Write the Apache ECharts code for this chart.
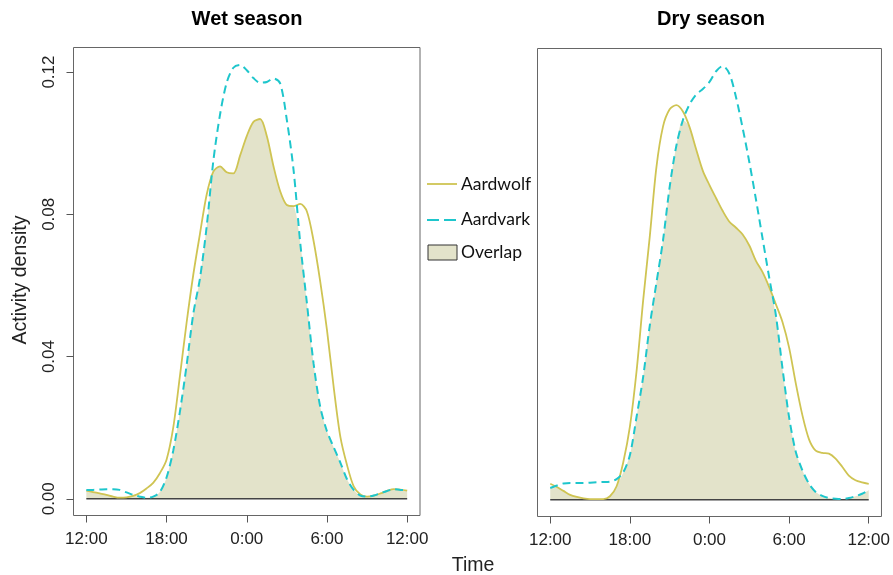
<!DOCTYPE html>
<html>
<head>
<meta charset="utf-8">
<script src="https://cdn.jsdelivr.net/npm/echarts@6/dist/echarts.min.js"></script>
<style>
html,body{margin:0;padding:0;background:#fff;}
#c{width:893px;height:575px;}
</style>
</head>
<body>
<div id="c"></div>
<script>
// Hours after 12:00 (0 = 12:00, 12 = 0:00, 24 = 12:00 next day)
const hours = [0,0.5,1,1.5,2,2.5,3,3.5,4,4.5,5,5.5,6,6.5,7,7.5,8,8.5,9,9.5,10,10.5,11,11.5,12,12.5,13,13.5,14,14.5,15,15.5,16,16.5,17,17.5,18,18.5,19,19.5,20,20.5,21,21.5,22,22.5,23,23.5,24];

const wetAardwolf = [0.0023,0.0019,0.0015,0.0011,0.0006,0.0003,0.0004,0.0008,0.0016,0.0029,0.0045,0.0072,0.0110,0.0200,0.0345,0.0495,0.0630,0.0745,0.0855,0.0920,0.0935,0.0918,0.0915,0.0965,0.1020,0.1060,0.1068,0.1020,0.0935,0.0865,0.0826,0.0823,0.0829,0.0808,0.0725,0.0610,0.0475,0.0315,0.0175,0.0095,0.0035,0.0012,0.0006,0.0009,0.0015,0.0022,0.0027,0.0026,0.0023];
const wetAardvark = [0.0025,0.0025,0.0026,0.0027,0.0027,0.0025,0.0018,0.0011,0.0006,0.0003,0.0006,0.0019,0.0060,0.0135,0.0245,0.0375,0.0520,0.0620,0.0765,0.0950,0.1080,0.1170,0.1212,0.1220,0.1205,0.1183,0.1170,0.1172,0.1182,0.1168,0.1065,0.0925,0.0720,0.0550,0.0380,0.0258,0.0190,0.0145,0.0102,0.0055,0.0025,0.0009,0.0006,0.0009,0.0016,0.0022,0.0027,0.0025,0.0024];

const dryAardwolf = [0.0045,0.0036,0.0025,0.0014,0.0008,0.0004,0.0002,0.0002,0.0002,0.0010,0.0038,0.0105,0.0205,0.0360,0.0560,0.0740,0.0935,0.1050,0.1098,0.1110,0.1092,0.1048,0.0985,0.0925,0.0885,0.0848,0.0812,0.0782,0.0765,0.0746,0.0715,0.0672,0.0640,0.0598,0.0550,0.0500,0.0428,0.0328,0.0238,0.0170,0.0138,0.0132,0.0130,0.0116,0.0093,0.0068,0.0055,0.0049,0.0045];
const dryAardvark = [0.0033,0.0040,0.0046,0.0047,0.0047,0.0047,0.0048,0.0049,0.0050,0.0051,0.0058,0.0077,0.0125,0.0232,0.0345,0.0490,0.0610,0.0730,0.0880,0.0995,0.1068,0.1112,0.1140,0.1155,0.1175,0.1205,0.1220,0.1198,0.1132,0.1045,0.0950,0.0845,0.0735,0.0625,0.0520,0.0370,0.0232,0.0135,0.0083,0.0045,0.0022,0.0011,0.0005,0.0003,0.0002,0.0005,0.0010,0.0017,0.0027];

const xTickHours = [0,6,12,18,24];
const xTickLabels = ['12:00','18:00','0:00','6:00','12:00'];
const yTicks = [0,0.04,0.08,0.12];
const panelTitles = ['Wet season','Dry season'];
const legendNames = ['Aardwolf','Aardvark','Overlap'];

const WOLF = '#CFC453';
const VARK = '#1EC6CC';
const FILL = '#E3E3CA';

function pairs(arr){ return hours.map((h,i)=>[h,arr[i]]); }
function overlap(a,b){ return hours.map((h,i)=>[h,Math.min(a[i],b[i])]); }

const grids = [
  {left:73.5, top:47.5, width:346.5, height:468},
  {left:537.5, top:48.5, width:346.5, height:468}
];

const xAxes = grids.map((g,i)=>({
  type:'value', gridIndex:i, min:-0.96, max:24.96, position:'bottom',
  axisLine:{show:false, onZero:false}, splitLine:{show:false},
  axisTick:{show:true, inside:false, length:7, lineStyle:{color:'#555',width:1}, customValues:xTickHours},
  axisLabel:{show:true, margin:15, fontFamily:'Liberation Sans', fontSize:17, color:'#222',
    customValues:xTickHours, formatter:(v)=>xTickLabels[xTickHours.indexOf(v)] }
}));
const yAxes = grids.map((g,i)=>({
  type:'value', gridIndex:i, min:-0.0047, max:0.1269, position:'left',
  axisLine:{show:false, onZero:false}, splitLine:{show:false},
  axisTick:{show:i===0, inside:false, length:7, lineStyle:{color:'#555',width:1}, customValues:yTicks},
  axisLabel:{show:i===0, rotate:90, margin:16, fontFamily:'Liberation Sans', fontSize:17, color:'#222',
    customValues:yTicks, formatter:(v)=>v.toFixed(2)}
}));

const panels = [[wetAardwolf,wetAardvark],[dryAardwolf,dryAardvark]];
const series = [];
panels.forEach((p,i)=>{
  series.push({type:'line', name:'Overlap', xAxisIndex:i, yAxisIndex:i, data:overlap(p[0],p[1]),
    smooth:0.3, symbol:'none', lineStyle:{width:0}, areaStyle:{color:FILL, opacity:1, origin:0}, silent:true, z:1});
  series.push({type:'line', name:'Baseline', xAxisIndex:i, yAxisIndex:i, data:[[xTickHours[0],0],[xTickHours[4],0]],
    symbol:'none', lineStyle:{color:'#444', width:1.5}, silent:true, z:2});
  series.push({type:'line', name:'Aardwolf', xAxisIndex:i, yAxisIndex:i, data:pairs(p[0]),
    smooth:0.3, symbol:'none', lineStyle:{color:WOLF, width:1.8}, z:3});
  series.push({type:'line', name:'Aardvark', xAxisIndex:i, yAxisIndex:i, data:pairs(p[1]),
    smooth:0.3, symbol:'none', lineStyle:{color:VARK, width:2, type:[8,5]}, z:4});
});

const chart = echarts.init(document.getElementById('c'), null, {renderer:'canvas'});
chart.setOption({
  animation:false,
  backgroundColor:'#fff',
  grid: grids.map(g=>Object.assign({show:true, borderColor:'#666', borderWidth:1, backgroundColor:'transparent'}, g)),
  xAxis:xAxes, yAxis:yAxes, series:series,
  graphic:[
    {type:'text', x:247, y:19, style:{text:panelTitles[0], font:'bold 20px "Liberation Sans"', fill:'#000', align:'center', verticalAlign:'middle'}},
    {type:'text', x:711, y:19, style:{text:panelTitles[1], font:'bold 20px "Liberation Sans"', fill:'#000', align:'center', verticalAlign:'middle'}},
    {type:'text', x:21, y:280, rotation:Math.PI/2, style:{text:'Activity density', font:'19.5px "Liberation Sans"', fill:'#222', align:'center', verticalAlign:'middle'}},
    {type:'text', x:473, y:566, style:{text:'Time', font:'19.5px "Liberation Sans"', fill:'#222', align:'center', verticalAlign:'middle'}},
    // legend
    {type:'line', shape:{x1:427, y1:184, x2:457, y2:184}, style:{stroke:WOLF, lineWidth:1.8}},
    {type:'text', x:461, y:184, style:{text:legendNames[0], font:'17.5px Lato', fill:'#111', verticalAlign:'middle'}},
    {type:'line', shape:{x1:427, y1:220, x2:458, y2:220}, style:{stroke:VARK, lineWidth:2.2, lineDash:[12,5]}},
    {type:'text', x:461, y:219, style:{text:legendNames[1], font:'17.5px Lato', fill:'#111', verticalAlign:'middle'}},
    {type:'rect', shape:{x:428, y:245, width:29, height:15}, style:{fill:FILL, stroke:'#333', lineWidth:1}},
    {type:'text', x:461, y:252, style:{text:legendNames[2], font:'17.5px Lato', fill:'#111', verticalAlign:'middle'}}
  ]
});
</script>
</body>
</html>
